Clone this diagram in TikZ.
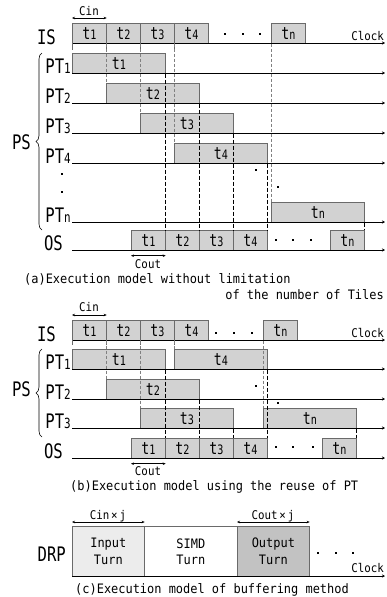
\documentclass[tikz,border=0pt]{standalone}
\usepackage{fontspec}
\usepackage{graphicx}
\setmainfont{DejaVu Sans Mono}
\usetikzlibrary{arrows.meta,decorations.pathreplacing}

\definecolor{boxfill}{HTML}{D2D2D2}
\definecolor{boxline}{HTML}{6A6A6A}
\definecolor{infill}{HTML}{ECECEC}
\definecolor{outfill}{HTML}{C2C2C2}

% narrowed text at a given size
\newcommand\narrow[2]{\scalebox{0.78}[1]{\fontsize{#1}{#1}\selectfont #2}}
\newcommand\tlab[1]{\narrow{17}{t{\fontsize{13}{13}\selectfont #1}}}
\newcommand\ptlab[1]{\narrow{20}{PT{\fontsize{14}{14}\selectfont #1}}}
\newcommand\captext[1]{\scalebox{0.92}[1]{\fontsize{13}{13}\selectfont #1}}
\newcommand\smalltext[1]{\scalebox{0.9}[1]{\fontsize{12}{12}\selectfont #1}}
% name, left x, width, top y, label
\newcommand\job[5]{\node[slot,minimum width=#3pt] (#1) at (#2,#4) {#5};}
% small square dot
\newcommand\blip[2]{\fill (#1-1.2,#2-1.2) rectangle ++(2.4,2.4);}

\begin{document}
\begin{tikzpicture}[x=1pt,y=-1pt,
    slot/.style={draw=boxline,fill=boxfill,line width=0.7pt,inner sep=0pt,
      minimum height=20pt,anchor=north west},
    axis/.style={line width=0.9pt,-{Stealth[length=3pt,width=3pt]}},
    tick/.style={draw=boxline,line width=0.7pt},
    guide/.style={gray,line width=0.6pt,dash pattern=on 3pt off 2pt},
    endline/.style={black,line width=0.6pt,dash pattern=on 4pt off 2pt},
    dim/.style={{Stealth[length=3pt,width=2.5pt]}-{Stealth[length=3pt,width=2.5pt]},line width=0.5pt},
    lbl/.style={inner sep=0pt}]
  \useasboundingbox (0,0) rectangle (386,597);

  % (a) one PT per tile
  \foreach \i in {1,...,4} {\job{ia\i}{72+34*\i-34}{34}{23}{\tlab{\i}}}
  \job{ian}{271}{34}{23}{\tlab{n}}
  \foreach \i in {1,...,4} {\job{pa\i}{72+34*\i-34}{93}{23+30*\i}{\tlab{\i}}}
  \job{pan}{271}{93}{202}{\tlab{n}}
  \foreach \i in {1,...,4} {\job{oa\i}{131+34*\i-34}{34}{230}{\tlab{\i}}}
  \job{oan}{330}{34}{230}{\tlab{n}}

  \foreach \y in {43,73,103,133,163,222,250} \draw[axis] (72,\y) -- (385,\y);
  \foreach \x in {72,106,140,174} \draw[tick] (\x,43) -- (\x,50);

  \foreach \i in {2,3,4,n} \draw[guide] (ia\i.south west) -- (pa\i.north west);
  \foreach \i in {1,2,3,4,n} \draw[endline] (pa\i.south east) -- (oa\i.north east);

  \foreach \x in {225,243,260} {\blip{\x}{34}}
  \foreach \x in {276,293,311} {\blip{\x}{240}}
  \blip{62}{174} \blip{62}{192}
  \blip{256}{170} \blip{278}{187}

  \draw[dim] ([yshift=5pt]ia1.north west) -- ([yshift=5pt]ia1.north east);
  \node[lbl,anchor=base] (cina) at (89,15) {\smalltext{Cin}};
  \draw[dim] ([yshift=-5pt]oa1.south west) -- ([yshift=-5pt]oa1.south east);
  \node[lbl,anchor=base] (couta) at (148,268) {\smalltext{Cout}};
  \node[lbl,anchor=base east] (clka) at (384,40) {\smalltext{Clock}};

  \node[lbl,anchor=base east] (isa) at (56,44) {\narrow{20}{IS}};
  \foreach \i in {1,...,4}
    \node[lbl,anchor=base east] (pla\i) at (71,43+30*\i) {\ptlab{\i}};
  \node[lbl,anchor=base east] (plan) at (71,222) {\ptlab{n}};
  \node[lbl,anchor=base east] (osa) at (63,250) {\narrow{20}{OS}};
  \draw[line width=0.6pt,decorate,decoration={brace,amplitude=6pt}] (42,230) -- (42,53);
  \node[lbl,anchor=east] (psa) at (31,142) {\narrow{20}{PS}};

  \node[lbl,anchor=base west] (capa) at (24,283) {\captext{(a)Execution model without limitation}};
  \node[lbl,anchor=base east] (capb) at (384,299) {\captext{of the number of Tiles}};

  % (b) PTs reused
  \foreach \i in {1,...,4} {\job{ib\i}{72+34*\i-34}{34}{320}{\tlab{\i}}}
  \job{ibn}{263}{34}{320}{\tlab{n}}
  \job{pb1}{72}{93}{349}{\tlab{1}}
  \job{pb4}{174}{93}{349}{\tlab{4}}
  \job{pb2}{106}{93}{379}{\tlab{2}}
  \job{pb3}{140}{93}{408}{\tlab{3}}
  \job{pbn}{263}{93}{408}{\tlab{n}}
  \foreach \i in {1,...,4} {\job{ob\i}{131+34*\i-34}{34}{438}{\tlab{\i}}}
  \job{obn}{322}{34}{438}{\tlab{n}}

  \foreach \y in {340,369,399,428,458} \draw[axis] (72,\y) -- (385,\y);
  \foreach \x in {72,106,140,174} \draw[tick] (\x,340) -- (\x,345);

  \foreach \i in {2,3,4,n} \draw[guide] (ib\i.south west) -- (pb\i.north west);
  \foreach \i in {1,2,3,4,n} \draw[endline] (pb\i.south east) -- (ob\i.north east);

  \foreach \x in {216,234,252} {\blip{\x}{333}}
  \foreach \x in {276,293,313} {\blip{\x}{447}}
  \blip{256}{386} \blip{278}{403}

  \draw[dim] ([yshift=5pt]ib1.north west) -- ([yshift=5pt]ib1.north east);
  \node[lbl,anchor=base] (cinb) at (89,311) {\smalltext{Cin}};
  \draw[dim] ([yshift=-5pt]ob1.south west) -- ([yshift=-5pt]ob1.south east);
  \node[lbl,anchor=base] (coutb) at (148,475) {\smalltext{Cout}};
  \node[lbl,anchor=base east] (clkb) at (384,337) {\smalltext{Clock}};

  \node[lbl,anchor=base east] (isb) at (56,341) {\narrow{20}{IS}};
  \node[lbl,anchor=base east] (plb1) at (71,369) {\ptlab{1}};
  \node[lbl,anchor=base east] (plb2) at (71,399) {\ptlab{2}};
  \node[lbl,anchor=base east] (plb3) at (71,428) {\ptlab{3}};
  \node[lbl,anchor=base east] (osb) at (63,458) {\narrow{20}{OS}};
  \draw[line width=0.6pt,decorate,decoration={brace,amplitude=6pt}] (42,437) -- (42,349);
  \node[lbl,anchor=east] (psb) at (31,389) {\narrow{20}{PS}};

  \node[lbl,anchor=base west] (capc) at (70,490) {\captext{(b)Execution model using the reuse of PT}};

  % (c) buffering on the DRP
  \node[slot,fill=infill,minimum width=72pt,minimum height=50pt,align=center] (inp) at (72,526)
    {\captext{Input}\\[4pt]\captext{Turn}};
  \node[slot,fill=white,minimum width=93pt,minimum height=50pt,align=center] (simd) at (144,526)
    {\captext{SIMD}\\[4pt]\captext{Turn}};
  \node[slot,fill=outfill,minimum width=72pt,minimum height=50pt,align=center] (outp) at (237,526)
    {\captext{Output}\\[4pt]\captext{Turn}};
  \draw[axis] (72,576) -- (385,576);
  \foreach \x in {318,336,353} {\blip{\x}{553}}

  \draw[dim] ([yshift=4pt]inp.north west) -- ([yshift=4pt]inp.north east);
  \node[lbl,anchor=base] (cinj) at (108,519) {\smalltext{Cin\hspace{2pt}×\hspace{2pt}j}};
  \draw[dim] ([yshift=4pt]outp.north west) -- ([yshift=4pt]outp.north east);
  \node[lbl,anchor=base] (coutj) at (273,519) {\smalltext{Cout\hspace{2pt}×\hspace{2pt}j}};
  \node[lbl,anchor=base east] (clkc) at (384,572) {\smalltext{Clock}};
  \node[lbl,anchor=base east] (drp) at (66,561) {\narrow{20}{DRP}};

  \node[lbl,anchor=base west] (capd) at (75,593) {\captext{(c)Execution model of buffering method}};
\end{tikzpicture}
\end{document}
